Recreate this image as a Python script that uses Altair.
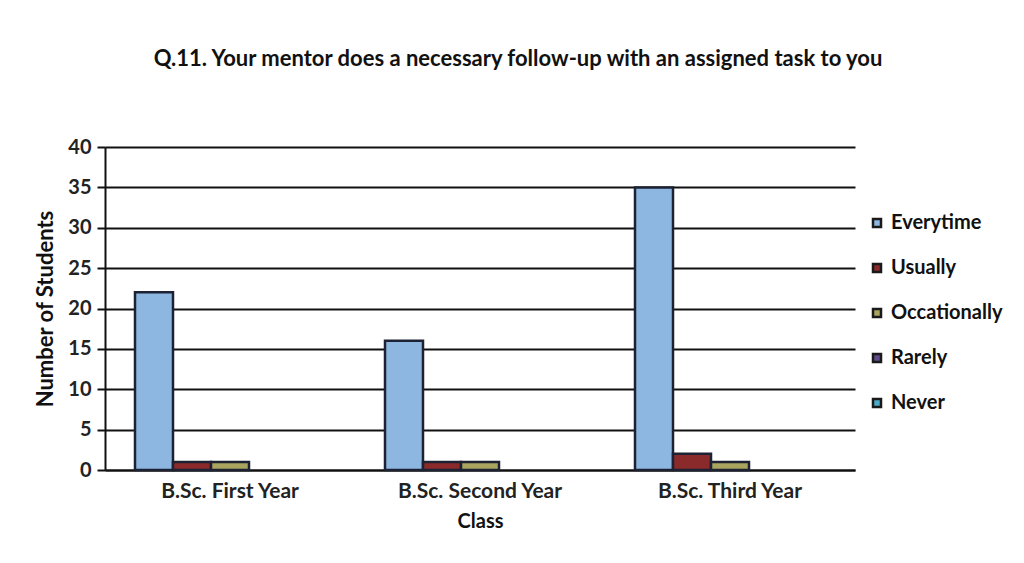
import altair as alt
import pandas as pd

classes = ["B.Sc. First Year", "B.Sc. Second Year", "B.Sc. Third Year"]
responses = ["Everytime", "Usually", "Occationally", "Rarely", "Never"]
everytime = [22, 16, 35]
usually = [1, 1, 2]
occationally = [1, 1, 1]
rarely = [0, 0, 0]
never = [0, 0, 0]
colors = ["#8db6e0", "#8b2a2a", "#a9a45e", "#5f4b8b", "#4bacc6"]
y_ticks = [0, 5, 10, 15, 20, 25, 30, 35, 40]

series = [everytime, usually, occationally, rarely, never]
rows = []
for i, c in enumerate(classes):
    for r, vals in zip(responses, series):
        rows.append({"Class": c, "Response": r, "Students": vals[i]})
df = pd.DataFrame(rows)

FONT = "Lato"

chart = alt.Chart(df).mark_bar(stroke="#1c2233").encode(
    x=alt.X("Class:N", sort=classes,
            scale=alt.Scale(paddingInner=0.24, paddingOuter=0.12),
            axis=alt.Axis(title="Class", labelAngle=0, ticks=False, domain=True,
                          domainColor="#111", domainWidth=2,
                          labelFontSize=21, labelFontWeight="bold", labelPadding=10,
                          titleFontSize=20, titleFontWeight="bold", titlePadding=10,
                          labelColor="#222", titleColor="#111")),
    xOffset=alt.XOffset("Response:N", sort=responses),
    y=alt.Y("Students:Q", scale=alt.Scale(domain=[0, 40]),
            axis=alt.Axis(title="Number of Students", values=y_ticks,
                          grid=True, gridColor="#111", gridWidth=2,
                          domain=True, domainColor="#111", domainWidth=2,
                          ticks=True, tickColor="#111", tickSize=8, tickWidth=2,
                          labelFontSize=20, labelFontWeight="bold", labelPadding=6,
                          labelColor="#222",
                          titleFontSize=22, titleFontWeight="bold", titlePadding=10,
                          titleColor="#111")),
    color=alt.Color("Response:N", sort=responses,
                    scale=alt.Scale(domain=responses, range=colors),
                    legend=alt.Legend(title=None, orient="none", legendX=762, legendY=66,
                                      symbolType="square", symbolSize=64,
                                      symbolStrokeColor="#1a1a1a", symbolStrokeWidth=2.5,
                                      labelFontSize=20, labelFontWeight="bold",
                                      labelColor="#111", rowPadding=25)),
    strokeWidth=alt.condition(alt.datum.Students > 0, alt.value(2.5), alt.value(0)),
).properties(
    width=750,
    height=323,
    title=alt.TitleParams(
        "Q.11. Your mentor does a necessary follow-up with an assigned task to you",
        fontSize=22, fontWeight="bold", color="#111", anchor="middle", dx=38, offset=66,
    ),
    padding={"left": 97, "top": 139, "right": 161, "bottom": 85},
    autosize=alt.AutoSizeParams(type="none"),
).configure(font=FONT, view=alt.ViewConfig(stroke=None))

chart.save("out.html", embed_options={"renderer": "svg", "actions": False})
